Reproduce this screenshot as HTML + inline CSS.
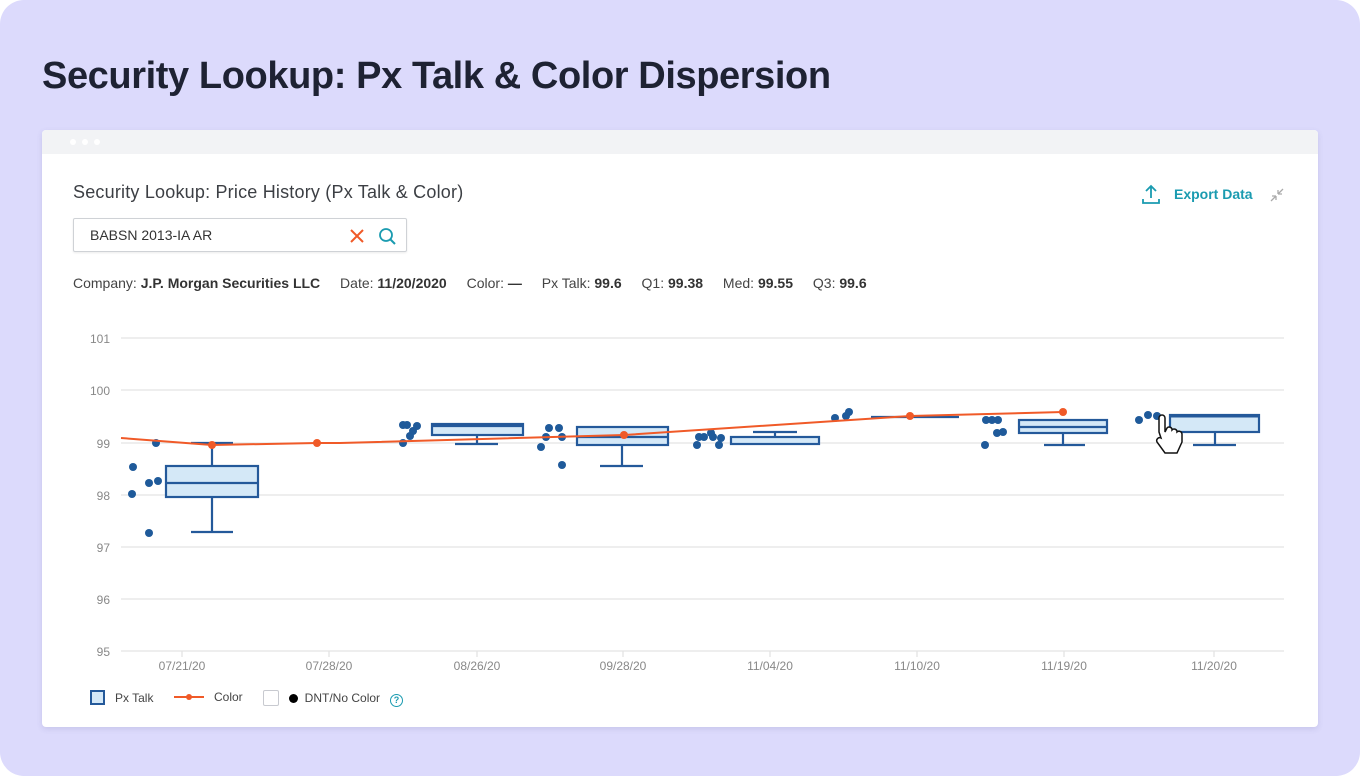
<!DOCTYPE html>
<html><head><meta charset="utf-8"><style>
body{margin:0;width:1360px;height:776px;background:#fff;font-family:"Liberation Sans",sans-serif;overflow:hidden}
.bg{position:absolute;left:0;top:0;width:1360px;height:776px;background:#dcdafc;border-radius:24px}
.h1{position:absolute;left:42px;top:55px;font-size:38px;font-weight:bold;color:#1e2233;letter-spacing:-0.4px}
.card{position:absolute;left:42px;top:130px;width:1276px;height:597px;background:#fff;border-radius:4px;box-shadow:0 2px 6px rgba(80,80,140,.15);overflow:hidden}
.bar{height:24px;background:#f2f3f5}
.dot{position:absolute;top:9px;width:6px;height:6px;border-radius:50%;background:#fff}
.t2{position:absolute;left:31px;top:52px;font-size:18px;color:#3c3f44;letter-spacing:0.2px}
.inp{position:absolute;left:31px;top:88px;width:332px;height:32px;border:1px solid #cfd2d6;border-radius:2px;box-shadow:0 1px 2px rgba(0,0,0,.08)}
.inp span{position:absolute;left:16px;top:8px;font-size:14px;color:#333}
.info{position:absolute;left:31px;top:145px;font-size:14px;color:#444;white-space:nowrap}
.info b{color:#333;margin-right:16px}
.exp{position:absolute;left:1132px;top:56px;font-size:14px;color:#1a9bb0;font-weight:bold}
.leg{position:absolute;top:561px;font-size:12px;color:#444}
</style></head><body>
<div class="bg"></div>
<div class="h1">Security Lookup: Px Talk &amp; Color Dispersion</div>
<div class="card">
<div class="bar"><div class="dot" style="left:28px"></div><div class="dot" style="left:40px"></div><div class="dot" style="left:52px"></div></div>
<div class="t2">Security Lookup: Price History (Px Talk &amp; Color)</div>
<div class="inp"><span>BABSN 2013-IA AR</span>
<svg style="position:absolute;left:275px;top:8px" width="60" height="20"><path d="M2 3l12 12M14 3L2 15" stroke="#f05a28" stroke-width="2"/><circle cx="37" cy="8" r="6" fill="none" stroke="#1a9bb0" stroke-width="1.8"/><path d="M41 12l5 5" stroke="#1a9bb0" stroke-width="2"/></svg></div>
<div class="info">Company: <b>J.P. Morgan Securities LLC</b> Date: <b>11/20/2020</b> Color: <b>—</b> Px Talk: <b>99.6</b> Q1: <b>99.38</b> Med: <b>99.55</b> Q3: <b>99.6</b></div>
<svg style="position:absolute;left:1100px;top:54px" width="20" height="22"><path d="M9 2v12M4 7l5-5 5 5" stroke="#1a9bb0" stroke-width="1.8" fill="none"/><path d="M1 15v4h16v-4" stroke="#1a9bb0" stroke-width="1.8" fill="none"/></svg>
<div class="exp">Export Data</div>
<svg style="position:absolute;left:1227px;top:57px" width="16" height="16"><path d="M2 14l5-5M7 9v4M7 9H3M14 2l-5 5M9 7V3M9 7h4" stroke="#aaa" stroke-width="1.3" fill="none"/></svg>
<div class="leg" style="left:48px;top:560px"><span style="display:inline-block;width:11px;height:11px;border:2px solid #24599a;background:#d4e8f7;vertical-align:-3px"></span>&nbsp;&nbsp;&nbsp;Px Talk</div>
<div class="leg" style="left:132px;top:560px"><span style="display:inline-block;width:30px;height:2px;background:#f05a28;vertical-align:3px;position:relative"><span style="position:absolute;left:12px;top:-2px;width:6px;height:6px;border-radius:50%;background:#f05a28"></span></span>&nbsp;&nbsp;&nbsp;Color</div>
<div class="leg" style="left:221px;top:560px"><span style="display:inline-block;width:14px;height:14px;border:1px solid #c8cad0;border-radius:2px;vertical-align:-4px"></span>&nbsp;&nbsp;&nbsp;<span style="display:inline-block;width:9px;height:9px;border-radius:50%;background:#000;vertical-align:-1px"></span>&nbsp;&nbsp;DNT/No Color&nbsp;&nbsp;&nbsp;<span style="display:inline-block;width:11px;height:11px;border:1.5px solid #1a9bb0;border-radius:50%;color:#1a9bb0;font-size:9px;text-align:center;line-height:11px;font-weight:bold;vertical-align:-1px">?</span></div>
</div>
<svg style="position:absolute;left:0;top:0" width="1360" height="776" font-family="Liberation Sans, sans-serif">
<g stroke="#e3e3e3" stroke-width="1.3">
<line x1="121" x2="1284" y1="338" y2="338"/><line x1="121" x2="1284" y1="390" y2="390"/><line x1="121" x2="1284" y1="443" y2="443"/><line x1="121" x2="1284" y1="495" y2="495"/><line x1="121" x2="1284" y1="547" y2="547"/><line x1="121" x2="1284" y1="599" y2="599"/><line x1="121" x2="1284" y1="651" y2="651"/>
<line x1="182" x2="182" y1="651" y2="657"/><line x1="329" x2="329" y1="651" y2="657"/><line x1="477" x2="477" y1="651" y2="657"/><line x1="623" x2="623" y1="651" y2="657"/><line x1="770" x2="770" y1="651" y2="657"/><line x1="917" x2="917" y1="651" y2="657"/><line x1="1064" x2="1064" y1="651" y2="657"/><line x1="1214" x2="1214" y1="651" y2="657"/>
</g>
<g fill="#888" font-size="12" text-anchor="end">
<text x="110" y="343">101</text><text x="110" y="395">100</text><text x="110" y="448">99</text><text x="110" y="500">98</text><text x="110" y="552">97</text><text x="110" y="604">96</text><text x="110" y="656">95</text></g>
<g fill="#888" font-size="12" text-anchor="middle">
<text x="182" y="670">07/21/20</text><text x="329" y="670">07/28/20</text><text x="477" y="670">08/26/20</text><text x="623" y="670">09/28/20</text><text x="770" y="670">11/04/20</text><text x="917" y="670">11/10/20</text><text x="1064" y="670">11/19/20</text><text x="1214" y="670">11/20/20</text></g>
<g stroke="#24599a" stroke-width="2.2" fill="#d4e8f7">
<path d="M212 443V532M191 532H233M191 443H233" fill="none"/><rect x="166" y="466" width="92" height="31"/><line x1="166" x2="258" y1="483" y2="483"/>
<path d="M477 435V444M455 444H498" fill="none"/><rect x="432" y="424" width="91" height="11"/><line x1="432" x2="523" y1="426" y2="426"/>
<path d="M622 445V466M600 466H643" fill="none"/><rect x="577" y="427" width="91" height="18"/><line x1="577" x2="668" y1="437" y2="437"/>
<path d="M775 437V432M753 432H797" fill="none"/><rect x="731" y="437" width="88" height="7"/>
<line x1="871" x2="959" y1="417" y2="417"/>
<path d="M1063 433V445M1044 445H1085" fill="none"/><rect x="1019" y="420" width="88" height="13"/><line x1="1019" x2="1107" y1="427" y2="427"/>
<path d="M1215 432V445M1193 445H1236" fill="none"/><rect x="1170" y="415" width="89" height="17"/><line x1="1170" x2="1259" y1="416" y2="416" stroke-width="3"/>
</g>
<g fill="#1f5a9a">
<circle cx="133" cy="467" r="4"/><circle cx="132" cy="494" r="4"/><circle cx="149" cy="533" r="4"/><circle cx="149" cy="483" r="4"/><circle cx="158" cy="481" r="4"/><circle cx="156" cy="443" r="4"/>
<circle cx="403" cy="425" r="4"/><circle cx="407" cy="425" r="4"/><circle cx="410" cy="436" r="4"/><circle cx="413" cy="431" r="4"/><circle cx="417" cy="426" r="4"/><circle cx="403" cy="443" r="4"/>
<circle cx="541" cy="447" r="4"/><circle cx="546" cy="437" r="4"/><circle cx="549" cy="428" r="4"/><circle cx="559" cy="428" r="4"/><circle cx="562" cy="437" r="4"/><circle cx="562" cy="465" r="4"/>
<circle cx="697" cy="445" r="4"/><circle cx="699" cy="437" r="4"/><circle cx="704" cy="437" r="4"/><circle cx="711" cy="433" r="4"/><circle cx="713" cy="437" r="4"/><circle cx="719" cy="445" r="4"/><circle cx="721" cy="438" r="4"/>
<circle cx="835" cy="418" r="4"/><circle cx="846" cy="416" r="4"/><circle cx="849" cy="412" r="4"/>
<circle cx="985" cy="445" r="4"/><circle cx="986" cy="420" r="4"/><circle cx="992" cy="420" r="4"/><circle cx="998" cy="420" r="4"/><circle cx="997" cy="433" r="4"/><circle cx="1003" cy="432" r="4"/>
<circle cx="1139" cy="420" r="4"/><circle cx="1148" cy="415" r="4"/><circle cx="1157" cy="416" r="4"/>
</g>
<path d="M121 438L212 445L317 443L340 443L624 435L910 416L1063 412" stroke="#f05a28" stroke-width="2" fill="none"/>
<g fill="#f05a28"><circle cx="212" cy="445" r="4"/><circle cx="317" cy="443" r="4"/><circle cx="624" cy="435" r="4"/><circle cx="910" cy="416" r="4"/><circle cx="1063" cy="412" r="4"/></g>
<path d="M1159 432v-14a3 3 0 0 1 6 0v14l2-4a3 3 0 0 1 5 1l0 1a3 3 0 0 1 5 1l0 1a3 3 0 0 1 5 2v8l-5 11h-12l-8-11a3 3 0 0 1 4-4z" fill="#fff" stroke="#111" stroke-width="1.5"/>
</svg>
</body></html>
